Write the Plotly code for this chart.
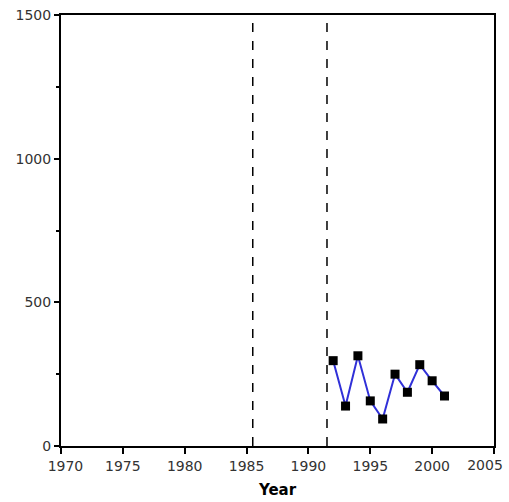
import plotly.graph_objects as go

years = [1992, 1993, 1994, 1995, 1996, 1997, 1998, 1999, 2000, 2001]
values = [297, 139, 314, 157, 94, 250, 187, 283, 227, 174]
dashed_years = [1985.5, 1991.5]
x_ticks = [1970, 1975, 1980, 1985, 1990, 1995, 2000, 2005]
x_tick_labels = ["\u00a0\u00a01970", "1975", "1980", "1985", "1990", "1995", "2000", ""]
last_tick = [2005]
last_tick_label = ["2005"]
y_ticks = [0, 500, 1000, 1500]

tick_font = dict(family="DejaVu Sans", size=14, color="#333")

fig = go.Figure()
fig.add_trace(go.Scatter(
    x=years, y=values, mode="lines+markers",
    line=dict(color="#3030d8", width=2),
    marker=dict(symbol="square", size=9, color="black"),
    showlegend=False, cliponaxis=False,
))
# helper trace so the overlay axis carrying the last tick label is drawn
fig.add_trace(go.Scatter(x=last_tick, y=[0], xaxis="x2", mode="markers",
                         marker=dict(opacity=0), hoverinfo="skip", showlegend=False))
for xv in dashed_years:
    fig.add_shape(type="line", x0=xv, x1=xv, y0=0, y1=1500, xref="x", yref="y",
                  line=dict(color="black", width=1.5, dash="dash"))

fig.update_xaxes(range=[1970, 2005], tickvals=x_ticks, ticktext=x_tick_labels,
                 ticks="outside", ticklen=6,
                 tickwidth=1.5, tickcolor="black", showline=True, linecolor="black",
                 linewidth=2, mirror=True, showgrid=False, zeroline=False, automargin=False,
                 ticklabeloverflow="allow", tickfont=tick_font,
                 title=dict(text="<b>Year</b>", font=dict(family="DejaVu Sans", size=15, color="black"), standoff=12),
                 selector=dict(anchor="y") if False else None)
fig.update_layout(xaxis2=dict(overlaying="x", anchor="y", side="bottom", range=[1970, 2005],
                              tickvals=last_tick, ticktext=last_tick_label, ticks="",
                              showline=False, showgrid=False, zeroline=False, automargin=False,
                              ticklabelshift=-9, ticklabelstandoff=9, ticklabeloverflow="allow",
                              tickfont=tick_font))
fig.update_yaxes(range=[0, 1500], tickvals=y_ticks, ticks="outside", ticklen=5,
                 tickwidth=1.5, tickcolor="black", showline=True, linecolor="black",
                 linewidth=2, mirror=True, showgrid=False, zeroline=False, automargin=False,
                 ticklabeloverflow="allow",
                 minor=dict(tickvals=[250, 750, 1250], ticks="outside", ticklen=3, tickcolor="black"),
                 tickfont=tick_font)
fig.update_layout(width=509, height=502, margin=dict(l=61, r=15, t=15, b=56),
                  plot_bgcolor="white", paper_bgcolor="white")
fig.write_html("out.html", config={"displayModeBar": False},
               post_script="document.body.style.margin='0';")
